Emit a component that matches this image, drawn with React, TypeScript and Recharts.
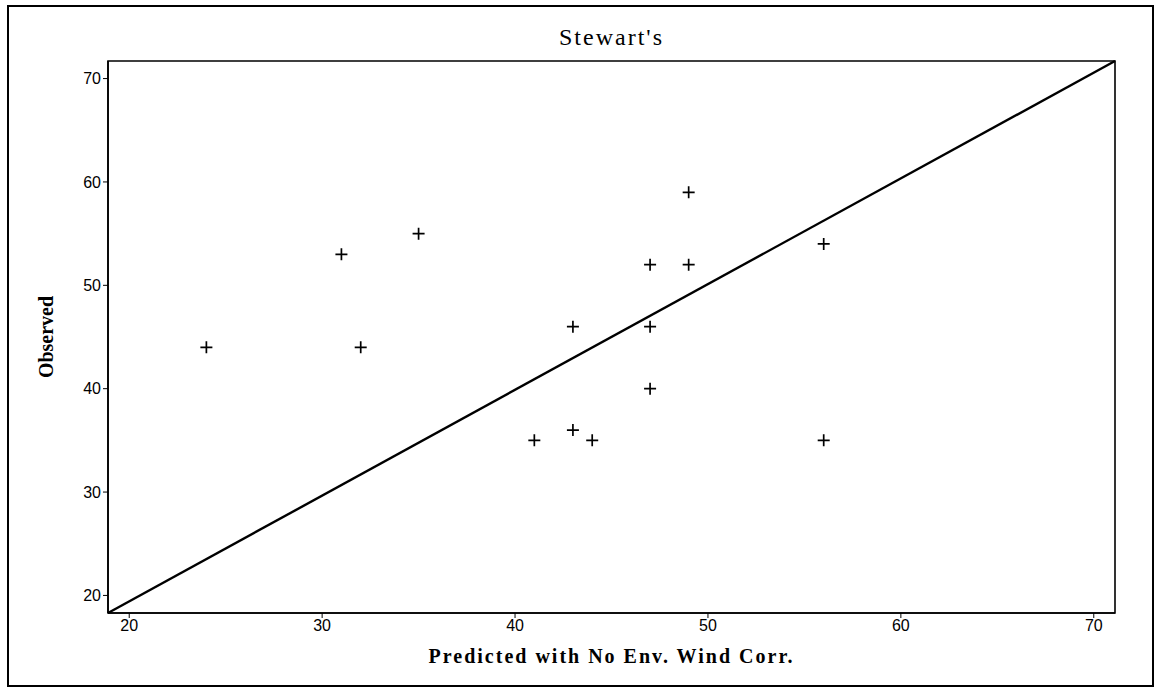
import React from 'react';
import {
  ScatterChart,
  Scatter,
  XAxis,
  YAxis,
  ReferenceLine,
  ReferenceArea,
} from 'recharts';

// observed vs predicted
const predicted = [24, 31, 32, 35, 41, 43, 43, 44, 47, 47, 47, 49, 49, 56, 56];
const observed = [44, 53, 44, 55, 35, 46, 36, 35, 52, 46, 40, 59, 52, 54, 35];

const xTicks = [20, 30, 40, 50, 60, 70];
const yTicks = [20, 30, 40, 50, 60, 70];
const xDomain = [18.9, 71.1];
const yDomain = [18.3, 71.7];

// diagonal reference line, corner to corner
const lineX = [18.9, 71.1];
const lineY = [18.3, 71.7];

const points = predicted.map((x, i) => ({ x, y: observed[i] }));

const tickFont = {
  fontFamily: 'Liberation Sans, Arial, sans-serif',
  fontSize: 16,
  fill: '#000',
};
const serif = 'Liberation Serif, Times New Roman, serif';

const Plus = (props: any) => {
  const { cx, cy } = props;
  const s = 6;
  return (
    <path
      d={`M${cx - s},${cy} H${cx + s} M${cx},${cy - s} V${cy + s}`}
      stroke="#000"
      strokeWidth={1.7}
      fill="none"
    />
  );
};

export default function App() {
  return (
    <div
      style={{
        position: 'absolute',
        left: 0,
        top: 0,
        width: 1160,
        height: 689,
        background: '#fff',
      }}
    >
      {/* outer frame */}
      <div
        style={{
          position: 'absolute',
          left: 7,
          top: 5,
          width: 1143,
          height: 678,
          border: '2px solid #000',
        }}
      />
      <div
        style={{
          position: 'absolute',
          left: 108,
          width: 1007,
          top: 24,
          textAlign: 'center',
          fontFamily: serif,
          fontSize: 24,
          letterSpacing: 2,
          color: '#000',
        }}
      >
        Stewart's
      </div>
      <div style={{ position: 'absolute', left: 0, top: 0 }}>
        <ScatterChart
          width={1160}
          height={689}
          margin={{ top: 61, right: 45, bottom: 46, left: 68 }}
        >
          <XAxis
            type="number"
            dataKey="x"
            domain={xDomain}
            ticks={xTicks}
            height={30}
            tick={tickFont}
            tickSize={5}
            axisLine={{ stroke: '#000', strokeWidth: 1.6 }}
            tickLine={{ stroke: '#000' }}
            label={{
              value: 'Predicted with No Env. Wind Corr.',
              position: 'insideBottom',
              offset: -20,
              style: { fontFamily: serif, fontWeight: 'bold', fontSize: 20, fill: '#000', letterSpacing: 2 },
            }}
          />
          <YAxis
            type="number"
            dataKey="y"
            domain={yDomain}
            ticks={yTicks}
            width={40}
            tick={tickFont}
            tickSize={5}
            axisLine={{ stroke: '#000', strokeWidth: 1.6 }}
            tickLine={{ stroke: '#000' }}
            label={{
              value: 'Observed',
              angle: -90,
              position: 'insideLeft',
              offset: -22,
              style: { fontFamily: serif, fontWeight: 'bold', fontSize: 20, fill: '#000', textAnchor: 'middle' },
            }}
          />
          {/* plot frame */}
          <ReferenceArea
            x1={xDomain[0]}
            x2={xDomain[1]}
            y1={yDomain[0]}
            y2={yDomain[1]}
            fill="none"
            stroke="#000"
            strokeWidth={1.6}
            fillOpacity={0}
          />
          <ReferenceLine
            segment={[
              { x: lineX[0], y: lineY[0] },
              { x: lineX[1], y: lineY[1] },
            ]}
            stroke="#000"
            strokeWidth={2.4}
          />
          <Scatter data={points} shape={Plus} isAnimationActive={false} />
        </ScatterChart>
      </div>
    </div>
  );
}
